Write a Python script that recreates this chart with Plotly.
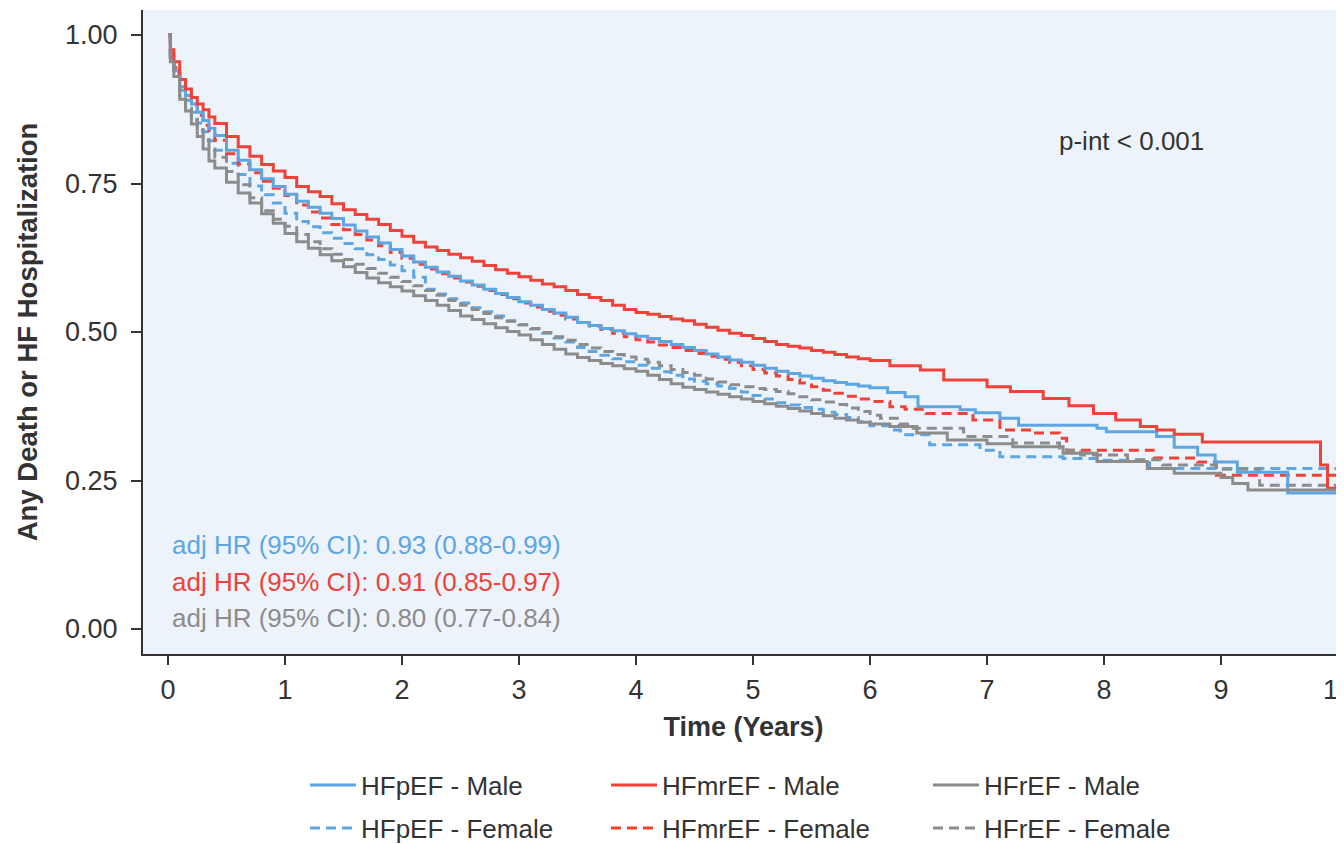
import plotly.graph_objects as go

# ---------------- data ----------------
# shared early time grid (years), dense part of the Kaplan-Meier curves
t_grid = [0, 0.02, 0.05, 0.1, 0.15, 0.2, 0.25, 0.3, 0.35, 0.4,
          0.5, 0.6, 0.7, 0.8, 0.9, 1.0, 1.1, 1.2, 1.3, 1.4, 1.5, 1.6, 1.7, 1.8, 1.9,
          2.0, 2.1, 2.2, 2.3, 2.4, 2.5, 2.6, 2.7, 2.8, 2.9, 3.0, 3.1, 3.2, 3.3, 3.4,
          3.5, 3.6, 3.7, 3.8, 3.9, 4.0, 4.1, 4.2, 4.3, 4.4, 4.5, 4.6, 4.7, 4.8, 4.9,
          5.0, 5.1, 5.2, 5.3, 5.4, 5.5, 5.6, 5.7, 5.8, 5.9, 6.0]

# HFmrEF - Male
s_mr_m = [1.0, 0.975, 0.955, 0.925, 0.909, 0.895, 0.884, 0.874, 0.862, 0.851,
          0.829, 0.812, 0.796, 0.782, 0.771, 0.760, 0.745, 0.736, 0.728, 0.716, 0.706, 0.698, 0.690, 0.681, 0.671,
          0.661, 0.651, 0.643, 0.637, 0.631, 0.625, 0.619, 0.612, 0.605, 0.599, 0.593, 0.587, 0.581, 0.576, 0.570,
          0.563, 0.558, 0.553, 0.545, 0.538, 0.533, 0.530, 0.526, 0.522, 0.519, 0.513, 0.508, 0.503, 0.498, 0.494,
          0.489, 0.484, 0.479, 0.476, 0.473, 0.469, 0.466, 0.462, 0.458, 0.455, 0.452]
t_tail_mr_m = [6.17, 6.43, 6.63, 7.0, 7.2, 7.48, 7.7, 7.91, 8.1, 8.31, 8.45, 8.6, 8.84, 9.85, 9.91, 10.0]
s_tail_mr_m = [0.443, 0.436, 0.419, 0.408, 0.400, 0.388, 0.376, 0.363, 0.352, 0.341, 0.335, 0.328, 0.315,
               0.276, 0.237, 0.237]

# HFpEF - Male
s_p_m = [1.0, 0.965, 0.940, 0.913, 0.898, 0.884, 0.870, 0.856, 0.843, 0.831,
         0.806, 0.789, 0.773, 0.758, 0.745, 0.732, 0.720, 0.710, 0.700, 0.691, 0.680, 0.670, 0.660, 0.650, 0.639,
         0.628, 0.618, 0.609, 0.601, 0.594, 0.586, 0.579, 0.572, 0.565, 0.558, 0.551, 0.545, 0.538, 0.532, 0.525,
         0.516, 0.511, 0.506, 0.502, 0.497, 0.493, 0.489, 0.484, 0.479, 0.474, 0.469, 0.463, 0.458, 0.453, 0.449,
         0.444, 0.439, 0.434, 0.430, 0.426, 0.422, 0.418, 0.415, 0.412, 0.409, 0.406]
t_tail_p_m = [6.15, 6.3, 6.41, 6.77, 6.9, 7.11, 7.27, 7.94, 8.02, 8.45, 8.6, 8.8, 8.95, 9.14, 9.57, 10.0]
s_tail_p_m = [0.398, 0.391, 0.374, 0.369, 0.364, 0.355, 0.343, 0.338, 0.332, 0.324, 0.306, 0.293, 0.281,
              0.264, 0.229, 0.229]

# HFrEF - Male
s_r_m = [1.0, 0.955, 0.930, 0.892, 0.872, 0.850, 0.829, 0.808, 0.788, 0.776,
         0.752, 0.734, 0.717, 0.699, 0.683, 0.666, 0.652, 0.641, 0.630, 0.620, 0.610, 0.600, 0.591, 0.583, 0.576,
         0.569, 0.561, 0.553, 0.545, 0.536, 0.527, 0.521, 0.514, 0.507, 0.501, 0.495, 0.487, 0.479, 0.471, 0.463,
         0.457, 0.452, 0.447, 0.443, 0.438, 0.434, 0.427, 0.420, 0.413, 0.407, 0.403, 0.399, 0.395, 0.391, 0.387,
         0.383, 0.379, 0.375, 0.371, 0.367, 0.363, 0.359, 0.355, 0.352, 0.348, 0.345]
t_tail_r_m = [6.17, 6.4, 6.66, 7.0, 7.22, 7.65, 7.94, 8.37, 8.6, 9.0, 9.1, 9.23, 10.0]
s_tail_r_m = [0.341, 0.330, 0.318, 0.312, 0.307, 0.296, 0.282, 0.270, 0.262, 0.255, 0.245, 0.234, 0.234]

# HFpEF - Female
s_p_f = [1.0, 0.960, 0.935, 0.907, 0.890, 0.870, 0.852, 0.837, 0.822, 0.806,
         0.784, 0.765, 0.746, 0.731, 0.717, 0.700, 0.686, 0.677, 0.667, 0.658, 0.649, 0.640, 0.630, 0.622, 0.613,
         0.603, 0.592, 0.572, 0.564, 0.556, 0.549, 0.541, 0.534, 0.527, 0.519, 0.512, 0.505, 0.498, 0.490, 0.483,
         0.474, 0.467, 0.461, 0.455, 0.450, 0.444, 0.439, 0.433, 0.427, 0.421, 0.417, 0.413, 0.409, 0.405, 0.399,
         0.393, 0.387, 0.381, 0.377, 0.373, 0.370, 0.365, 0.361, 0.356, 0.349, 0.342]
t_tail_p_f = [6.17, 6.26, 6.51, 6.94, 7.11, 7.65, 8.0, 8.39, 10.0]
s_tail_p_f = [0.335, 0.327, 0.310, 0.301, 0.290, 0.287, 0.284, 0.270, 0.270]

# HFmrEF - Female
s_mr_f = [1.0, 0.968, 0.945, 0.922, 0.902, 0.884, 0.865, 0.848, 0.835, 0.823,
          0.800, 0.783, 0.768, 0.754, 0.742, 0.730, 0.714, 0.702, 0.692, 0.681, 0.672, 0.664, 0.655, 0.645, 0.634,
          0.624, 0.614, 0.606, 0.598, 0.591, 0.584, 0.577, 0.570, 0.563, 0.556, 0.549, 0.542, 0.535, 0.528, 0.522,
          0.516, 0.510, 0.504, 0.498, 0.492, 0.487, 0.483, 0.478, 0.474, 0.469, 0.464, 0.459, 0.454, 0.449, 0.443,
          0.437, 0.431, 0.426, 0.420, 0.414, 0.408, 0.402, 0.397, 0.392, 0.387, 0.383]
t_tail_mr_f = [6.17, 6.3, 6.48, 6.88, 7.11, 7.4, 7.62, 7.68, 8.42, 8.8, 8.96, 10.0]
s_tail_mr_f = [0.374, 0.370, 0.363, 0.352, 0.335, 0.330, 0.321, 0.301, 0.288, 0.281, 0.259, 0.259]

# HFrEF - Female
s_r_f = [1.0, 0.958, 0.930, 0.898, 0.877, 0.857, 0.840, 0.823, 0.808, 0.794,
         0.770, 0.748, 0.726, 0.704, 0.690, 0.678, 0.664, 0.652, 0.640, 0.631, 0.622, 0.614, 0.607, 0.599, 0.592,
         0.585, 0.578, 0.570, 0.562, 0.553, 0.545, 0.538, 0.531, 0.524, 0.518, 0.512, 0.506, 0.499, 0.492, 0.486,
         0.479, 0.473, 0.467, 0.462, 0.458, 0.454, 0.449, 0.443, 0.437, 0.432, 0.427, 0.421, 0.416, 0.411, 0.408,
         0.405, 0.403, 0.400, 0.396, 0.391, 0.386, 0.382, 0.378, 0.372, 0.366, 0.360]
t_tail_r_f = [6.09, 6.25, 6.37, 6.8, 7.22, 7.62, 7.8, 8.2, 8.5, 8.96, 9.33, 10.0]
s_tail_r_f = [0.355, 0.345, 0.338, 0.324, 0.313, 0.301, 0.293, 0.285, 0.276, 0.269, 0.242, 0.242]

x_ticks = [0, 1, 2, 3, 4, 5, 6, 7, 8, 9, 10]
y_ticks = [0.0, 0.25, 0.5, 0.75, 1.0]

hr_texts = ["adj HR (95% CI): 0.93 (0.88-0.99)",
            "adj HR (95% CI): 0.91 (0.85-0.97)",
            "adj HR (95% CI): 0.80 (0.77-0.84)"]
p_text = "p-int < 0.001"

BLUE = "#5EA6E2"
RED = "#EF4238"
GRAY = "#8C8C8C"
FONT = "Liberation Sans, Arial, sans-serif"
TXT = "#333333"
DASH = "10px,6px"

# figure geometry (pixels); the page body adds an 8 px offset
OFF = 8
W, H = 1344 - OFF, 844 - OFF
L, R, T, B = 143 - OFF, 0, 10 - OFF, 844 - 654
PW, PH = W - L - R, H - T - B

series = [
    # name, times, survival, colour, dash, legend id, legend x (page px), legend row y (page px)
    ("HFpEF - Male", t_grid + t_tail_p_m, s_p_m + s_tail_p_m, BLUE, "solid", "legend", 310, 786),
    ("HFmrEF - Male", t_grid + t_tail_mr_m, s_mr_m + s_tail_mr_m, RED, "solid", "legend2", 611, 786),
    ("HFrEF - Male", t_grid + t_tail_r_m, s_r_m + s_tail_r_m, GRAY, "solid", "legend3", 933, 786),
    ("HFpEF - Female", t_grid + t_tail_p_f, s_p_f + s_tail_p_f, BLUE, DASH, "legend4", 310, 829),
    ("HFmrEF - Female", t_grid + t_tail_mr_f, s_mr_f + s_tail_mr_f, RED, DASH, "legend5", 611, 829),
    ("HFrEF - Female", t_grid + t_tail_r_f, s_r_f + s_tail_r_f, GRAY, DASH, "legend6", 933, 829),
]

fig = go.Figure()
draw_order = [3, 4, 5, 0, 1, 2]
legend_layouts = {}
for i in draw_order:
    name, t, s, col, dash, lg, lx, ly = series[i]
    fig.add_trace(go.Scatter(x=t, y=s, mode="lines", name=name, line_shape="hv",
                             line=dict(color=col, width=3, dash=dash), legend=lg))
    legend_layouts[lg] = dict(orientation="h", x=(lx - OFF - 5) / W, xref="container", xanchor="left",
                              y=1 - (ly - OFF - 1) / H, yref="container", yanchor="middle",
                              itemwidth=46, font=dict(family=FONT, size=26, color=TXT),
                              bgcolor="rgba(0,0,0,0)", borderwidth=0)

fig.update_layout(
    width=W, height=H,
    margin=dict(l=L, r=R, t=T, b=B, autoexpand=False),
    paper_bgcolor="white",
    plot_bgcolor="#EDF3FB",
    font=dict(family=FONT, size=26, color=TXT),
    showlegend=True,
    **legend_layouts,
)

fig.update_xaxes(range=[-0.2137, 10.051], tickvals=x_ticks, ticks="outside", ticklen=9, tickwidth=2,
                 tickcolor="#333333", showline=True, linecolor="#333333", linewidth=2,
                 showgrid=False, zeroline=False, tickfont=dict(family=FONT, size=27, color=TXT),
                 ticklabelstandoff=2, ticklabeloverflow="allow", automargin=False,
                 title=dict(text="<b>Time (Years)</b>", font=dict(family=FONT, size=27, color=TXT),
                            standoff=13))
fig.update_yaxes(range=[-0.0421, 1.0421], tickvals=y_ticks, tickformat=".2f", ticks="outside",
                 ticklen=10, tickwidth=2, tickcolor="#333333", showline=True, linecolor="#333333",
                 linewidth=2, showgrid=False, zeroline=False, tickfont=dict(family=FONT, size=27, color=TXT),
                 ticklabelstandoff=8, automargin=False,
                 title=dict(text="<b>Any Death or HF Hospitalization</b>",
                            font=dict(family=FONT, size=27.5, color=TXT), standoff=19))

# annotation positions given in page pixels, converted to axis-domain fractions
def dom_x(px):
    return (px - OFF - L) / PW


def dom_y(py):
    return (H - B - (py - OFF)) / PH


fig.add_annotation(x=dom_x(1131), y=dom_y(141), xref="x domain", yref="y domain",
                   text=p_text, showarrow=False, xanchor="center", yanchor="middle",
                   font=dict(family=FONT, size=26, color=TXT))
for k, (txt, col) in enumerate(zip(hr_texts, [BLUE, RED, GRAY])):
    ypix = [545, 582, 618][k]
    fig.add_annotation(x=dom_x(170), y=dom_y(ypix), xref="x domain", yref="y domain",
                       text=txt, showarrow=False, xanchor="left", yanchor="middle",
                       font=dict(family=FONT, size=26, color=col))

fig.write_html("out.html")
